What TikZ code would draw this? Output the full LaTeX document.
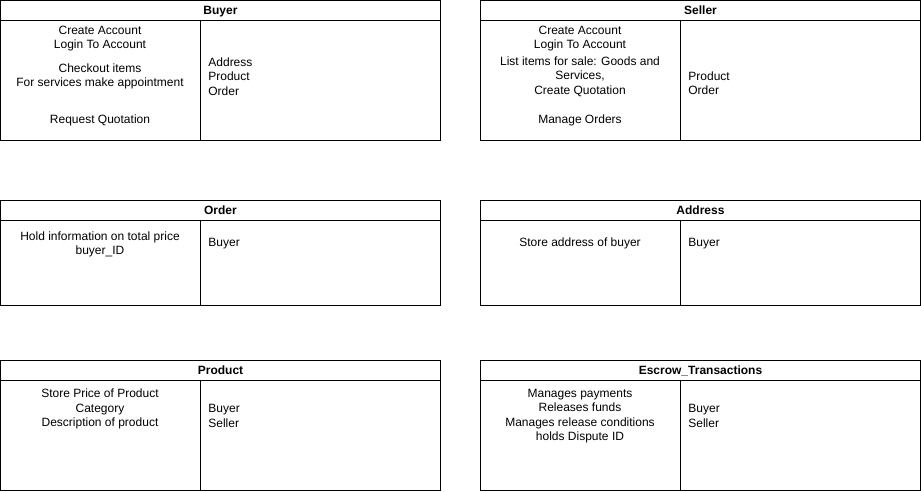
\documentclass[tikz,border=0pt]{standalone}
\usepackage{fontspec}
\setmainfont{Liberation Sans}
\usetikzlibrary{positioning}
\newcommand{\cardfont}{\fontsize{12pt}{14.4pt}\selectfont}

\begin{document}
\begin{tikzpicture}[x=1pt, y=-1pt, font=\cardfont, line width=0.8pt,
  cardhead/.style={draw, minimum width=440pt, minimum height=20pt, inner sep=0pt, outer sep=0pt, text depth=0pt, anchor=north west, font=\cardfont\bfseries},
  cardleft/.style={draw, minimum width=200pt, inner sep=0pt, outer sep=0pt, anchor=north west},
  cardright/.style={draw, minimum width=240pt, inner sep=0pt, outer sep=0pt, anchor=north west},
  duty/.style={align=center, inner sep=0pt, yshift=-1.5pt},
  partner/.style={align=left, anchor=west, inner sep=0pt, yshift=-1.5pt}]
\useasboundingbox (0,0) rectangle (921,491);

% Buyer
\node[cardhead] (buyer) at (0.5,0.5) {Buyer};
\node[cardleft, minimum height=120pt] (buyerL) at (buyer.south west) {};
\node[cardright, minimum height=120pt] (buyerR) at (buyerL.north east) {};
\node[duty] (buyerD1) at (100,37) {Create Account\\Login To Account};
\node[duty] (buyerD2) at (100,75) {Checkout items\\For services make appointment};
\node[duty] (buyerD3) at (100,119) {Request Quotation};
\node[partner] (buyerC) at (208,75) {Address\\Product\\Order};

% Seller
\node[cardhead] (seller) at (480.5,0.5) {Seller};
\node[cardleft, minimum height=120pt] (sellerL) at (seller.south west) {};
\node[cardright, minimum height=120pt] (sellerR) at (sellerL.north east) {};
\node[duty] (sellerD1) at (580,37) {Create Account\\Login To Account};
\node[duty] (sellerD2) at (580,75) {List items for sale: Goods and\\Services,\\Create Quotation};
\node[duty] (sellerD3) at (580,119) {Manage Orders};
\node[partner] (sellerC) at (688,82) {Product\\Order};

% Order
\node[cardhead] (order) at (0.5,200.5) {Order};
\node[cardleft, minimum height=85pt] (orderL) at (order.south west) {};
\node[cardright, minimum height=85pt] (orderR) at (orderL.north east) {};
\node[duty] (orderD) at (100,243) {Hold information on total price\\buyer\_ID};
\node[partner] (orderC) at (208,242) {Buyer};

% Address
\node[cardhead] (address) at (480.5,200.5) {Address};
\node[cardleft, minimum height=85pt] (addressL) at (address.south west) {};
\node[cardright, minimum height=85pt] (addressR) at (addressL.north east) {};
\node[duty] (addressD) at (580,242) {Store address of buyer};
\node[partner] (addressC) at (688,242) {Buyer};

% Product
\node[cardhead] (product) at (0.5,360.5) {Product};
\node[cardleft, minimum height=110pt] (productL) at (product.south west) {};
\node[cardright, minimum height=110pt] (productR) at (productL.north east) {};
\node[duty] (productD) at (100,407.5) {Store Price of Product\\Category\\Description of product};
\node[partner] (productC) at (208,414.5) {Buyer\\Seller};

% Escrow_Transactions
\node[cardhead] (escrow) at (480.5,360.5) {Escrow\_Transactions};
\node[cardleft, minimum height=110pt] (escrowL) at (escrow.south west) {};
\node[cardright, minimum height=110pt] (escrowR) at (escrowL.north east) {};
\node[duty] (escrowD) at (580,414.5) {Manages payments\\Releases funds\\Manages release conditions\\holds Dispute ID};
\node[partner] (escrowC) at (688,414.5) {Buyer\\Seller};
\end{tikzpicture}
\end{document}
